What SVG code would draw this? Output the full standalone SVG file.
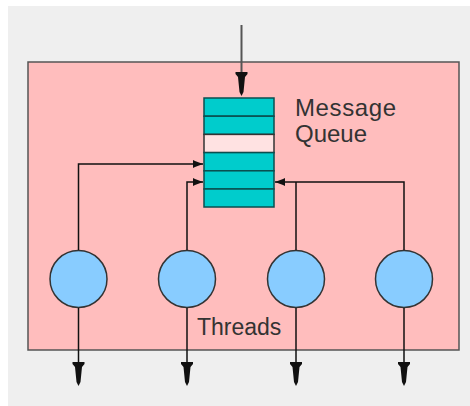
<svg xmlns="http://www.w3.org/2000/svg" width="470" height="406" viewBox="0 0 470 406">
<style>
.lbl{font-family:"Liberation Sans",Arial,sans-serif;font-size:23px;fill:#333}
.qlbl{font-size:24px}
.row{fill:#00cccc;stroke:#0a4f4f;stroke-width:1.5}
.thread{fill:#88ccff;stroke:#333;stroke-width:1.5}
.conn{fill:none;stroke:#111;stroke-width:1.5}
</style>
<defs>
<marker id="ah" markerUnits="userSpaceOnUse" viewBox="0 -6 10 12" refX="10" refY="0" markerWidth="10" markerHeight="12" orient="auto">
<path d="M0,-4 L2,-3 L10,0 L2,3 L0,4 Z" fill="#111"/>
</marker>
<path id="big" d="M-6,0 H6 V2 L3.5,5 L2,20 L0,24 L-2,20 L-3.5,5 L-6,2 Z" fill="#111"/>
</defs>
<rect x="0" y="0" width="470" height="406" fill="#ffffff"/>
<rect x="8" y="6" width="462" height="400" fill="#efefef"/>
<g id="container">
<rect x="28" y="62" width="431" height="288" fill="#ffbdbd" stroke="#555" stroke-width="1.5"/>
</g>
<g id="queue">
<rect class="row" x="204" y="98" width="70" height="18.2"/>
<rect class="row" x="204" y="116.2" width="70" height="18.2"/>
<rect x="204" y="134.4" width="70" height="18.2" fill="#ffe2e2" stroke="#333" stroke-width="1.5"/>
<rect class="row" x="204" y="152.6" width="70" height="18.2"/>
<rect class="row" x="204" y="170.8" width="70" height="18.2"/>
<rect class="row" x="204" y="189" width="70" height="18"/>
<text class="lbl qlbl" x="295" y="116" textLength="101" lengthAdjust="spacing">Message</text>
<text class="lbl qlbl" x="295" y="142" textLength="72" lengthAdjust="spacing">Queue</text>
</g>
<g id="thread1"><circle class="thread" cx="78.5" cy="279" r="28.5"/></g>
<g id="thread2"><circle class="thread" cx="187" cy="279" r="28.5"/></g>
<g id="thread3"><circle class="thread" cx="296" cy="279" r="28.5"/></g>
<g id="thread4"><circle class="thread" cx="404" cy="279" r="28.5"/></g>
<text class="lbl" x="197" y="335">Threads</text>
<g id="connectors">
<line x1="241.5" y1="25" x2="241.5" y2="74" stroke="#555" stroke-width="2"/>
<use href="#big" x="241.5" y="72"/>
<polyline class="conn" points="78.5,250 78.5,164 203,164" marker-end="url(#ah)"/>
<polyline class="conn" points="187,250 187,182 203,182" marker-end="url(#ah)"/>
<polyline class="conn" points="404,250 404,182 275,182" marker-end="url(#ah)"/>
<line class="conn" x1="296" y1="182" x2="296" y2="250"/>
<line class="conn" x1="78.5" y1="308" x2="78.5" y2="364"/>
<line class="conn" x1="187" y1="308" x2="187" y2="364"/>
<line class="conn" x1="296" y1="308" x2="296" y2="364"/>
<line class="conn" x1="404" y1="308" x2="404" y2="364"/>
<use href="#big" x="78.5" y="362"/>
<use href="#big" x="187" y="362"/>
<use href="#big" x="296" y="362"/>
<use href="#big" x="404" y="362"/>
</g>
</svg>
